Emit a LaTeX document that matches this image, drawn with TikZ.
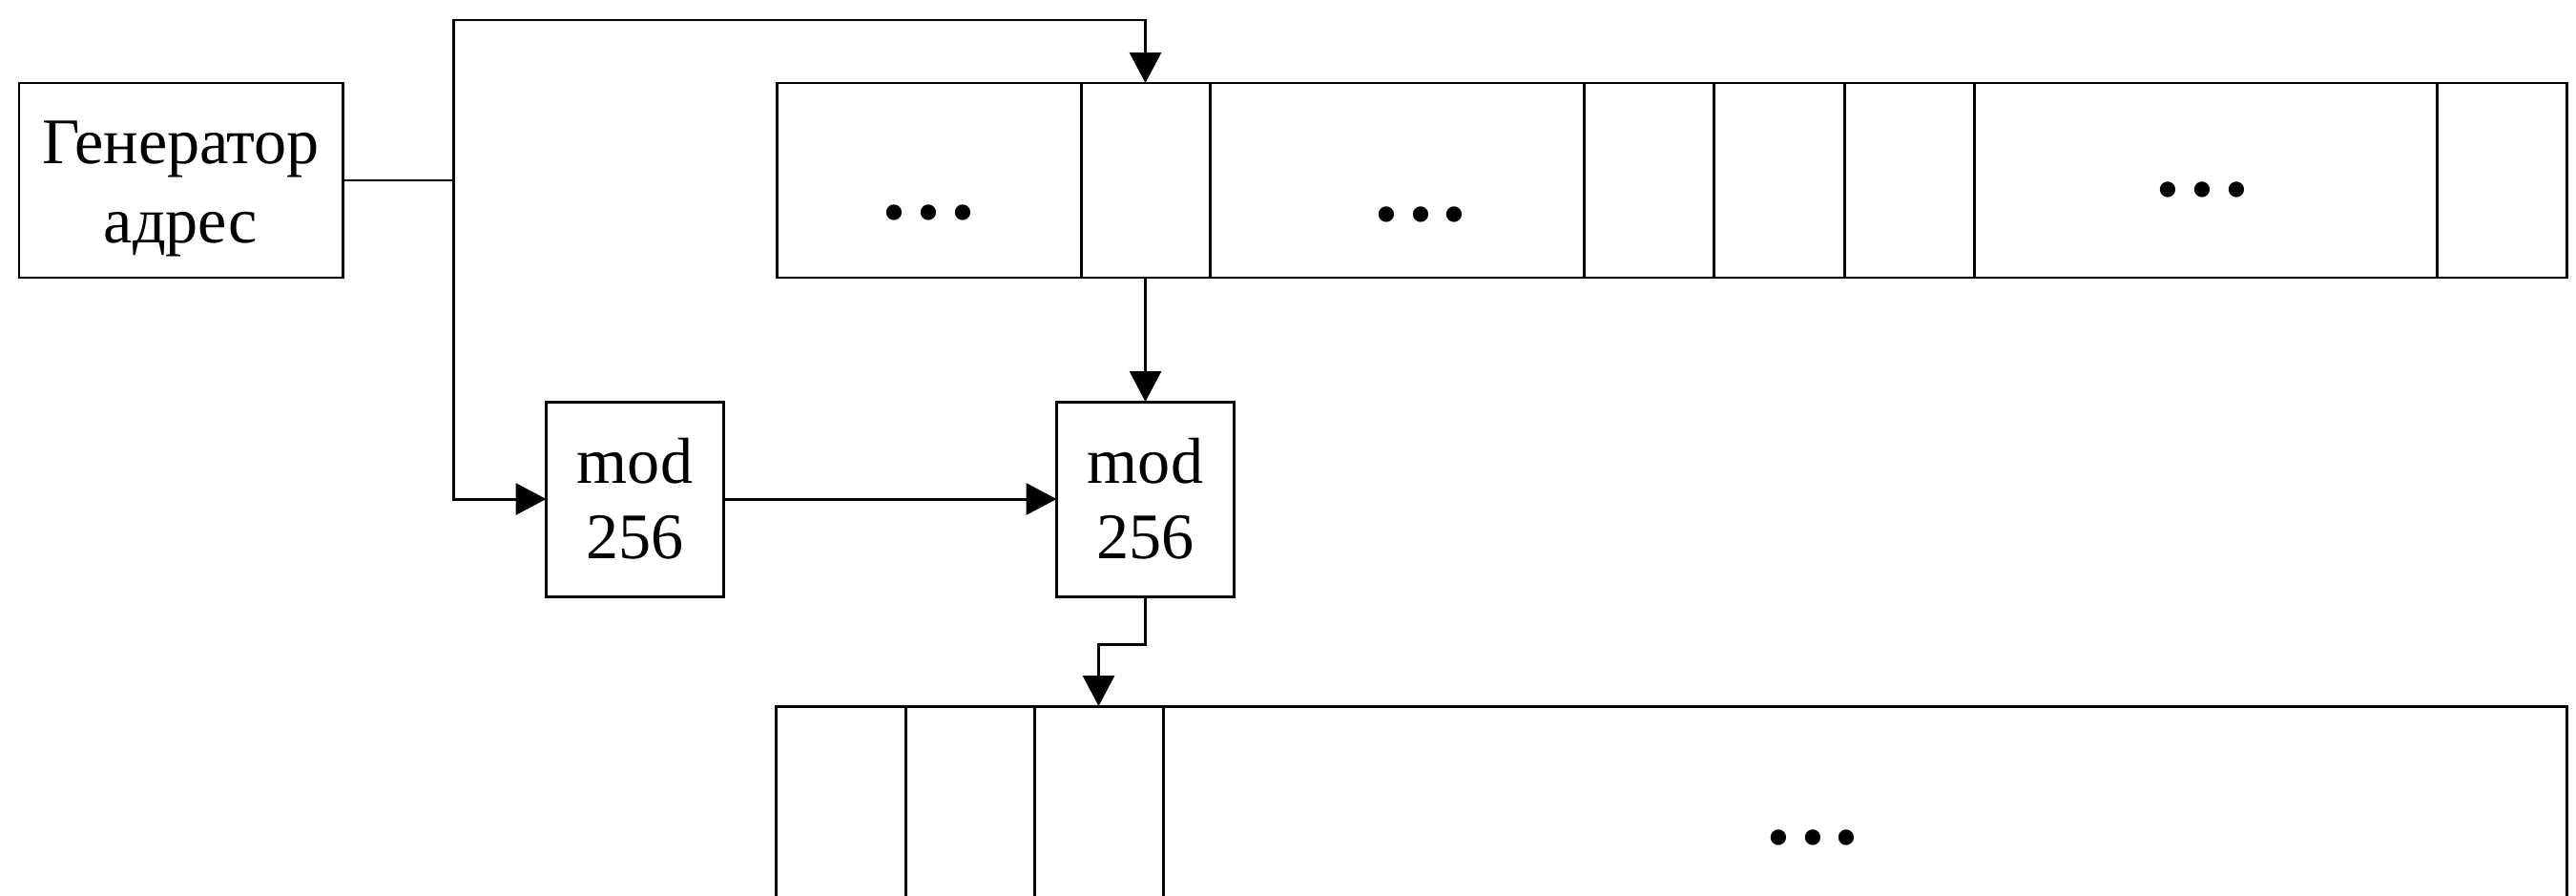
\documentclass[tikz,border=0pt]{standalone}
\usepackage{fontspec}
\setmainfont{Liberation Serif}
\usetikzlibrary{arrows.meta, positioning}

\newcommand{\celldots}{\textbullet\hspace{0.12cm}\textbullet\hspace{0.12cm}\textbullet}

\begin{document}
\begin{tikzpicture}[
    >={Triangle[length=3.2mm, width=3.3mm]},
    font=\fontsize{19.4}{22.5}\selectfont,
    line width=0.85pt,
    block/.style={
        draw, rectangle, align=center, inner sep=0pt, outer sep=0pt,
        minimum height=2.04cm,
    },
    cell/.style={
        draw, rectangle, inner sep=0pt, outer sep=0pt,
        minimum height=2.04cm,
    },
    arr/.style={->},
]
\useasboundingbox (0,0) rectangle (27,-9.38);
\clip (0,0) rectangle (27,-9.38);

% Address generator
\node[block, minimum width=3.39cm] (gen) at (1.895,-1.89)
    {\rule{0pt}{0.62cm}Генератор\\[1pt]адрес};

% Upper memory row
\node[cell, minimum width=3.19cm, anchor=north west] (t1) at (8.14,-0.87) {};
\node[cell, minimum width=1.35cm, right=0pt of t1] (t2) {};
\node[cell, minimum width=3.92cm, right=0pt of t2] (t3) {};
\node[cell, minimum width=1.36cm, right=0pt of t3] (t4) {};
\node[cell, minimum width=1.37cm, right=0pt of t4] (t5) {};
\node[cell, minimum width=1.36cm, right=0pt of t5] (t6) {};
\node[cell, minimum width=4.85cm, right=0pt of t6] (t7) {};
\node[cell, minimum width=1.36cm, right=0pt of t7] (t8) {};

\node (d1) at ([yshift=-4.1mm]t1.center) {\celldots};
\node (d3) at ([xshift=2.5mm, yshift=-4.3mm]t3.center) {\celldots};
\node (d7) at ([xshift=-0.3mm, yshift=-1.7mm]t7.center) {\celldots};

% mod blocks
\node[block, minimum width=1.86cm, below=1.30cm of t2] (mod2) {mod\\256};
\node[block, minimum width=1.86cm, left=3.49cm of mod2] (mod1) {mod\\256};

% Lower memory row (runs past the bottom edge)
\node[cell, minimum width=1.36cm, anchor=north west] (b1) at (8.13,-7.40) {};
\node[cell, minimum width=1.35cm, right=0pt of b1] (b2) {};
\node[cell, minimum width=1.35cm, right=0pt of b2] (b3) {};
\node[cell, minimum width=14.71cm, right=0pt of b3] (b4) {};

\node (d4) at ([xshift=-5.45mm, yshift=-4.3mm]b4.center) {\celldots};

% Address lines
\coordinate (branch) at (4.75,-1.89);
\coordinate (topbend) at (4.75,-0.21);
\draw (gen.east) -- (branch);
\draw[arr] (branch) -- (topbend) -| (t2.north);
\draw[arr] (branch) |- (mod1.west);
\draw[arr] (mod1.east) -- (mod2.west);
\draw[arr] (t2.south) -- (mod2.north);
\draw[arr] (mod2.south) -- ++(0,-0.50) -| (b3.north);

\end{tikzpicture}
\end{document}
